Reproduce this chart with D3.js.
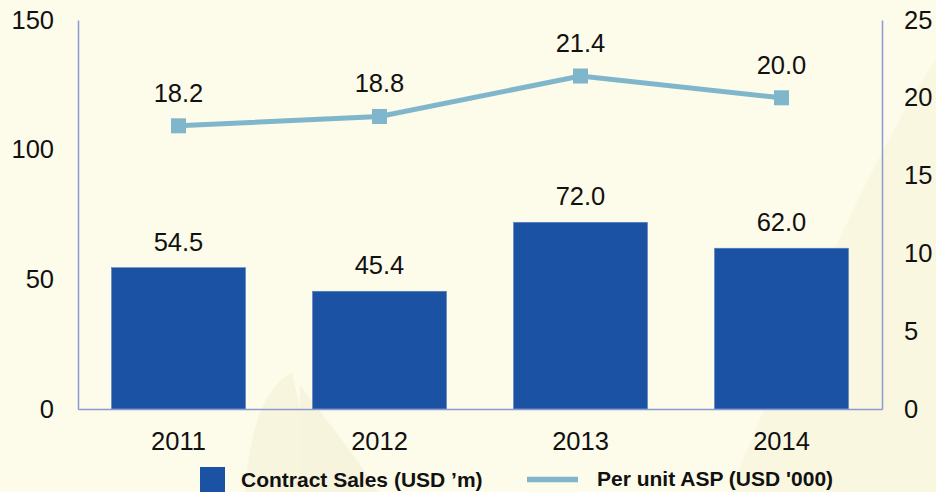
<!DOCTYPE html>
<html>
<head>
<meta charset="utf-8">
<script src="https://cdn.jsdelivr.net/npm/d3@7"></script>
<style>
  body { margin: 0; background: #fdfbe8; }
  svg text { font-family: "Liberation Sans", Arial, sans-serif; fill: #111; }
</style>
</head>
<body>
<svg id="chart" width="936" height="492"></svg>
<script>
var years = ["2011", "2012", "2013", "2014"];
var sales = [54.5, 45.4, 72.0, 62.0];
var asp = [18.2, 18.8, 21.4, 20.0];
var leftTicks = [0, 50, 100, 150];
var rightTicks = [0, 5, 10, 15, 20, 25];
var legendLabels = ["Contract Sales (USD \u2019m)", "Per unit ASP (USD '000)"];

var chart_w = 936;
var chart_h = 492;

// plot box
var plot_left = 78;
var plot_right = 882;
var plot_top = 20;
var plot_bottom = 409;

var font_size = 25.5;
var barColor = "#1c52a3";
var lineColor = "#7fb6cb";
var axisColor = "#8a9bd4";

var svg = d3.select("#chart");

// background with faint shapes
svg.append("rect").attr("width", chart_w).attr("height", chart_h).attr("fill", "#fdfbe9");
var bg = svg.append("g").attr("opacity", 0.35);
bg.append("path").attr("d", "M730,492 C800,320 880,140 936,60 L936,492 Z").attr("fill", "#f4f1d4");
bg.append("path").attr("d", "M245,492 C250,430 262,390 292,372 L318,492 Z").attr("fill", "#efecce");
bg.append("path").attr("d", "M300,492 L300,385 C330,425 360,462 378,492 Z").attr("fill", "#ebe8c8");

var x = d3.scaleBand()
    .domain(years)
    .range([plot_left, plot_right])
    .paddingInner(1 / 3)
    .paddingOuter(1 / 6);
var yL = d3.scaleLinear().domain([0, 150]).range([plot_bottom, plot_top]);
var yR = d3.scaleLinear().domain([0, 25]).range([plot_bottom, plot_top]);

// bars
svg.append("g").selectAll("rect")
    .data(sales)
    .enter()
    .append("rect")
    .attr("x", (d, i) => x(years[i]))
    .attr("y", d => yL(d))
    .attr("width", x.bandwidth())
    .attr("height", d => yL(0) - yL(d))
    .attr("fill", barColor)
    .attr("stroke", "#5c80c4")
    .attr("stroke-width", 0.6);

svg.append("g").selectAll("text")
    .data(sales)
    .enter()
    .append("text")
    .attr("x", (d, i) => x(years[i]) + x.bandwidth() / 2)
    .attr("y", d => yL(d) - 17)
    .attr("text-anchor", "middle")
    .attr("font-size", font_size)
    .text(d => d.toFixed(1));

// axes: plain lines, no ticks
var axisL = d3.axisLeft(yL).tickValues(leftTicks).tickSize(0).tickPadding(24);
var gL = svg.append("g").attr("transform", "translate(" + plot_left + ",0)").call(axisL);
var axisR = d3.axisRight(yR).tickValues(rightTicks).tickSize(0).tickPadding(22);
var gR = svg.append("g").attr("transform", "translate(" + plot_right + ",0)").call(axisR);
var axisB = d3.axisBottom(x).tickSize(0).tickPadding(23);
var gB = svg.append("g").attr("transform", "translate(0," + plot_bottom + ")").call(axisB);

[gL, gR, gB].forEach(function (g) {
    g.attr("font-size", font_size).attr("font-family", "Liberation Sans, Arial, sans-serif");
    g.select(".domain").attr("stroke", axisColor).attr("stroke-width", 1.5);
    g.selectAll("text").attr("fill", "#111");
});

// line series
var line = d3.line()
    .x((d, i) => x(years[i]) + x.bandwidth() / 2)
    .y(d => yR(d));
svg.append("path")
    .datum(asp)
    .attr("d", line)
    .attr("fill", "none")
    .attr("stroke", lineColor)
    .attr("stroke-width", 5);

svg.append("g").selectAll("rect")
    .data(asp)
    .enter()
    .append("rect")
    .attr("x", (d, i) => x(years[i]) + x.bandwidth() / 2 - 7.5)
    .attr("y", d => yR(d) - 7.5)
    .attr("width", 15)
    .attr("height", 15)
    .attr("fill", lineColor);

svg.append("g").selectAll("text")
    .data(asp)
    .enter()
    .append("text")
    .attr("x", (d, i) => x(years[i]) + x.bandwidth() / 2)
    .attr("y", d => yR(d) - 24)
    .attr("text-anchor", "middle")
    .attr("font-size", font_size)
    .text(d => d.toFixed(1));

// legend
var legend = svg.append("g");
legend.append("rect")
    .attr("x", 200).attr("y", 467)
    .attr("width", 25).attr("height", 30)
    .attr("fill", barColor);
legend.append("text")
    .attr("x", 241).attr("y", 487)
    .attr("font-size", 21)
    .attr("font-weight", "bold")
    .text(legendLabels[0]);
legend.append("line")
    .attr("x1", 527).attr("x2", 578)
    .attr("y1", 479.5).attr("y2", 479.5)
    .attr("stroke", lineColor)
    .attr("stroke-width", 5.5);
legend.append("text")
    .attr("x", 597).attr("y", 486)
    .attr("font-size", 21)
    .attr("font-weight", "bold")
    .text(legendLabels[1]);
</script>
</body>
</html>
